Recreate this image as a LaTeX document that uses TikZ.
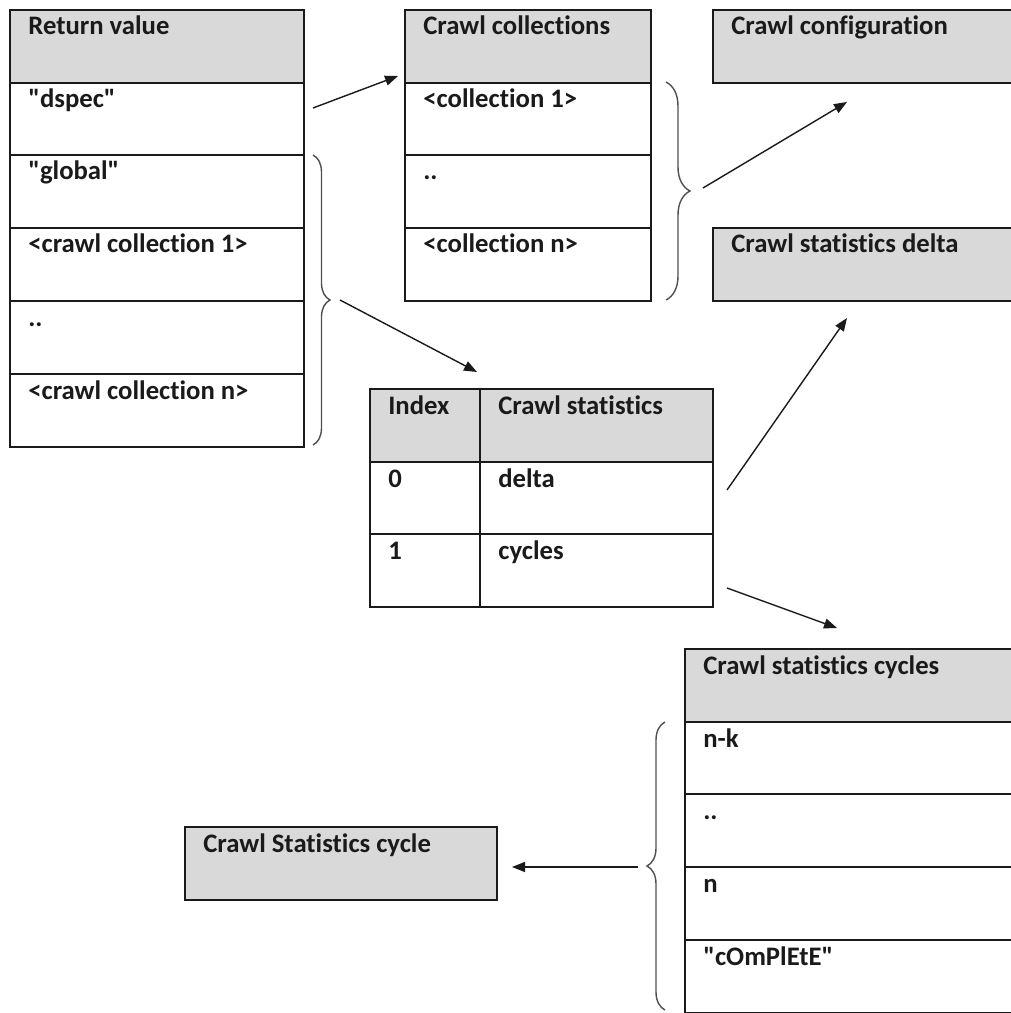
\documentclass[tikz,border=0pt]{standalone}
\usepackage{fontspec}
\setmainfont{Carlito}[Ligatures={NoCommon,TeXOff}]
\usepackage{tikz}
\usetikzlibrary{positioning}
\usetikzlibrary{arrows.meta}
\usetikzlibrary{decorations.pathreplacing}
\definecolor{headgray}{HTML}{D9D9D9}
\definecolor{ink}{HTML}{1A1A1A}
\definecolor{bracegray}{HTML}{505050}
\newcommand{\straightq}{\symbol{34}}

\tikzset{
  cell/.style={draw=ink, line width=1.1pt, anchor=north west, inner sep=0pt, minimum height=1.46cm},
  txt/.style={anchor=base west, inner sep=0pt, text=ink, font=\bfseries\fontsize{15.2}{18}\selectfont},
  link/.style={draw=ink, line width=0.8pt, -{Triangle[length=0.26cm, width=0.2cm]}},
  curly/.style={draw=bracegray, line width=0.8pt, decorate, decoration={brace, amplitude=#1}},
}

\begin{document}
\begin{tikzpicture}[x=0.02cm, y=-0.02cm]
    \useasboundingbox (0,0) rectangle (1010,1013);

    \node[cell, fill=headgray, minimum width=5.88cm] (rv0) at (9,9) {};
    \node[cell, fill=white, minimum width=5.88cm] (rv1) at (9,82) {};
    \node[cell, fill=white, minimum width=5.88cm] (rv2) at (9,154) {};
    \node[cell, fill=white, minimum width=5.88cm] (rv3) at (9,227) {};
    \node[cell, fill=white, minimum width=5.88cm] (rv4) at (9,300) {};
    \node[cell, fill=white, minimum width=5.88cm] (rv5) at (9,373) {};
    \node[txt] (rvt0) at (28,35) {Return value};
    \node[txt] (rvt1) at (28,108) {\straightq dspec\straightq};
    \node[txt] (rvt2) at (28,180) {\straightq global\straightq};
    \node[txt] (rvt3) at (28,253) {<crawl collection 1>};
    \node[txt] (rvt4) at (28,326) {..};
    \node[txt] (rvt5) at (28,399) {<crawl collection n>};

    \node[cell, fill=headgray, minimum width=4.92cm] (col0) at (404,9) {};
    \node[cell, fill=white, minimum width=4.92cm] (col1) at (404,82) {};
    \node[cell, fill=white, minimum width=4.92cm] (col2) at (404,154) {};
    \node[cell, fill=white, minimum width=4.92cm] (col3) at (404,227) {};
    \node[txt] (colt0) at (423,35) {Crawl collections};
    \node[txt] (colt1) at (423,108) {<collection 1>};
    \node[txt] (colt2) at (423,180) {..};
    \node[txt] (colt3) at (423,253) {<collection n>};

    \node[cell, fill=headgray, minimum width=6.3cm] (cfg) at (712,9) {};
    \node[txt] (cfgt) at (731,35) {Crawl configuration};
    \node[cell, fill=headgray, minimum width=6.3cm] (dlt) at (712,227) {};
    \node[txt] (dltt) at (731,253) {Crawl statistics delta};

    \node[cell, fill=headgray, minimum width=2.2cm] (ix0) at (369,388) {};
    \node[cell, fill=headgray, minimum width=4.66cm] (st0) at (479,388) {};
    \node[cell, fill=white, minimum width=2.2cm] (ix1) at (369,461) {};
    \node[cell, fill=white, minimum width=4.66cm] (st1) at (479,461) {};
    \node[cell, fill=white, minimum width=2.2cm] (ix2) at (369,533) {};
    \node[cell, fill=white, minimum width=4.66cm] (st2) at (479,533) {};
    \node[txt] (ixt0) at (388,414) {Index};
    \node[txt] (stt0) at (498,414) {Crawl statistics};
    \node[txt] (ixt1) at (388,487) {0};
    \node[txt] (stt1) at (498,487) {delta};
    \node[txt] (ixt2) at (388,559) {1};
    \node[txt] (stt2) at (498,559) {cycles};

    \node[cell, fill=headgray, minimum width=6.7cm] (cy0) at (684,648) {};
    \node[cell, fill=white, minimum width=6.7cm] (cy1) at (684,721) {};
    \node[cell, fill=white, minimum width=6.7cm] (cy2) at (684,793) {};
    \node[cell, fill=white, minimum width=6.7cm] (cy3) at (684,866) {};
    \node[cell, fill=white, minimum width=6.7cm] (cy4) at (684,939) {};
    \node[txt] (cyt0) at (703,674) {Crawl statistics cycles};
    \node[txt] (cyt1) at (703,747) {n-k};
    \node[txt] (cyt2) at (703,819) {..};
    \node[txt] (cyt3) at (703,892) {n};
    \node[txt] (cyt4) at (703,965) {\straightq cOmPlEtE\straightq};

    \node[cell, fill=headgray, minimum width=6.24cm] (one) at (184,826) {};
    \node[txt] (onet) at (203,852) {Crawl Statistics cycle};

    \draw[curly=0.34cm] (313,155) -- (313,445);
    \draw[curly=0.48cm] (666,82) -- (666,300);
    \draw[curly=0.36cm] (665,1010) -- (665,722);

    \coordinate (dspecout) at (313,108);
    \coordinate (colin) at (398,76);
    \coordinate (globalout) at (340,300);
    \coordinate (ixin) at (477,372);
    \coordinate (colout) at (703,188);
    \coordinate (cfgin) at (847,102);
    \coordinate (deltaout) at (727,490);
    \coordinate (dltin) at (847,318);
    \coordinate (cyclesout) at (727,588);
    \coordinate (cyin) at (837,628);
    \coordinate (cyout) at (638,867);
    \coordinate (onein) at (512,867);

    \draw[link] (dspecout) -- (colin);
    \draw[link] (globalout) -- (ixin);
    \draw[link] (colout) -- (cfgin);
    \draw[link] (deltaout) -- (dltin);
    \draw[link] (cyclesout) -- (cyin);
    \draw[link] (cyout) -- (onein);
  \end{tikzpicture}
\end{document}
